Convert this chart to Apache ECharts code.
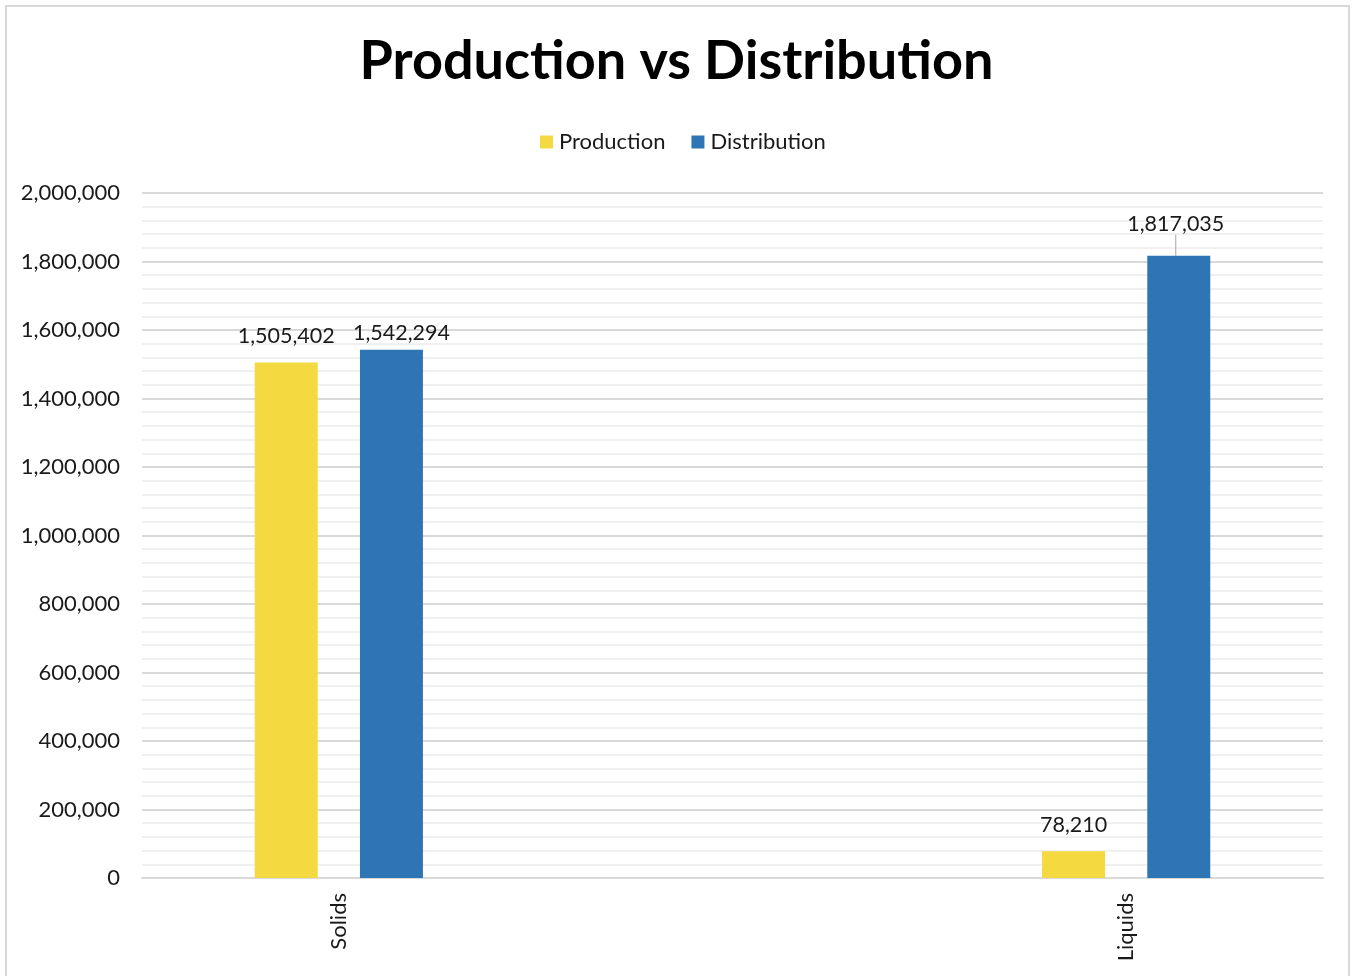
<!DOCTYPE html>
<html><head><meta charset="utf-8">
<script src="https://cdn.jsdelivr.net/npm/echarts@6/dist/echarts.min.js"></script>
<style>
html,body{margin:0;padding:0;background:#fff;}
#frame{position:absolute;left:5px;top:5px;width:1345px;height:990px;border:2px solid #d9d9d9;box-sizing:border-box;}
#c{position:absolute;left:0;top:0;width:1353px;height:976px;}
</style></head>
<body>
<div id="frame"></div>
<div id="c"></div>
<script>
const categories = ["Solids", "", "Liquids"];
const production = [1505402, null, 78210];
const distribution = [1542294, null, 1817035];
const yTicks = { min: 0, max: 2000000, interval: 200000 };

const FONT = 'Lato, "Open Sans", sans-serif';
const fmt = v => v.toLocaleString('en-US');

const chart = echarts.init(document.getElementById('c'));
chart.setOption({
  animation: false,
  title: {
    text: 'Production vs Distribution',
    left: 'center', top: 30,
    textStyle: { fontFamily: FONT, fontWeight: 'bold', fontSize: 54, color: '#000' }
  },
  legend: {
    top: 126, left: 535,
    itemWidth: 13, itemHeight: 13, itemGap: 26,
    icon: 'rect',
    textStyle: { fontFamily: FONT, fontSize: 22, color: '#1a1a1a', padding: [0, 0, 0, 1] },
    data: ['Production', 'Distribution']
  },
  grid: { left: 142, right: 30, top: 193, bottom: 98, containLabel: false },
  xAxis: {
    type: 'category', data: categories,
    axisLine: { lineStyle: { color: '#d9d9d9', width: 2 } },
    axisTick: { show: false },
    axisLabel: { rotate: 90, margin: 15, fontFamily: FONT, fontSize: 22, color: '#1a1a1a' }
  },
  yAxis: {
    type: 'value', min: yTicks.min, max: yTicks.max, interval: yTicks.interval,
    axisLine: { show: false }, axisTick: { show: false },
    axisLabel: { margin: 22, fontFamily: FONT, fontSize: 22, color: '#1a1a1a', formatter: v => fmt(v) },
    splitLine: { lineStyle: { color: '#d9d9d9', width: 2 } },
    minorTick: { show: false, splitNumber: 5 },
    minorSplitLine: { show: true, lineStyle: { color: '#f0f0f0', width: 2 } }
  },
  series: [
    {
      name: 'Production', type: 'bar', barWidth: 63, barGap: '67%',
      itemStyle: { color: '#F5D941' },
      label: { show: true, position: 'top', distance: 15, fontFamily: FONT, fontSize: 21.5, color: '#1a1a1a', formatter: p => fmt(p.value) },
      data: production
    },
    {
      name: 'Distribution', type: 'bar', barWidth: 63, barGap: '67%',
      itemStyle: { color: '#2E75B6' },
      label: { show: true, position: 'top', distance: 6, fontFamily: FONT, fontSize: 21.5, color: '#1a1a1a', formatter: p => fmt(p.value) },
      labelLine: { show: false, lineStyle: { color: '#a6a6a6', width: 1 } },
      labelLayout: function (params) {
        if (params.dataIndex === 2) return { dy: -15, dx: -3 };
        if (params.dataIndex === 0) return { dx: 10 };
        return {};
      },
      data: distribution.map((v, i) => ({ value: v, labelLine: { show: i === 2 } }))
    }
  ]
});
</script>
</body></html>
